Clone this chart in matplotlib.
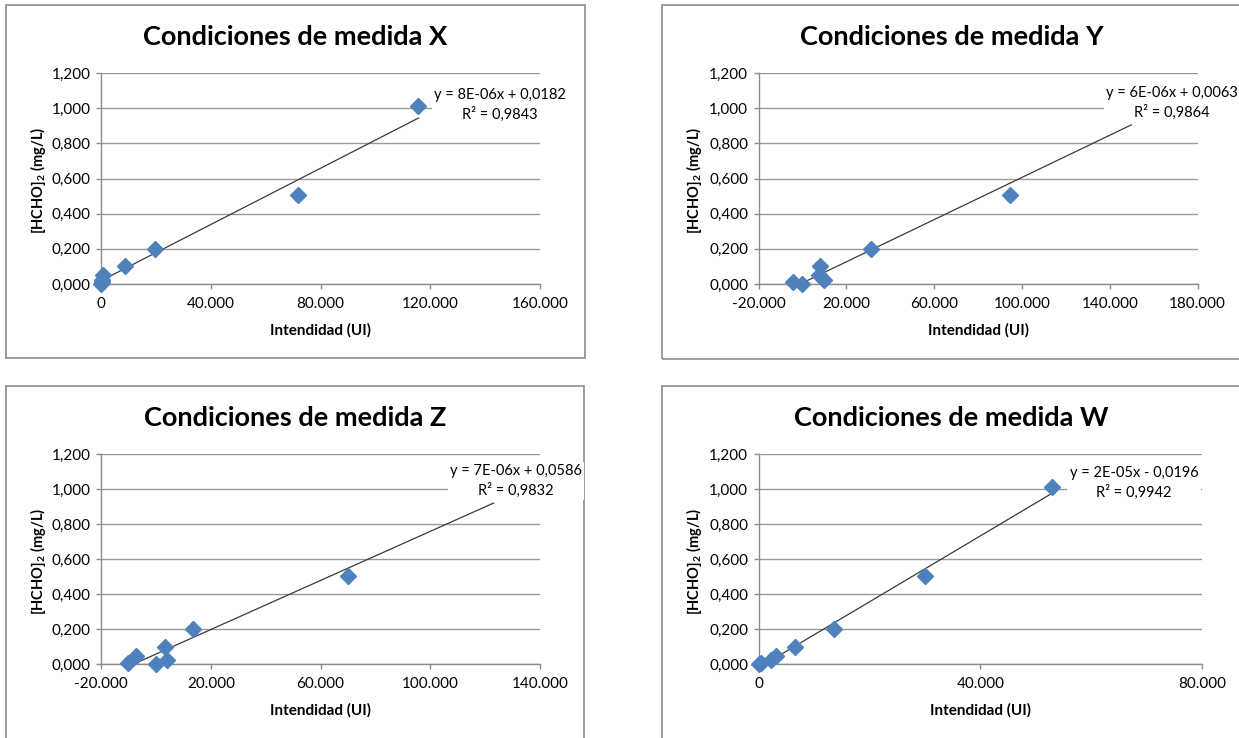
import numpy as np
import matplotlib
matplotlib.use('Agg')
import matplotlib.pyplot as plt
from matplotlib.patches import Rectangle
from matplotlib.ticker import FuncFormatter, FixedLocator

plt.rcParams['font.family'] = ['Lato', 'DejaVu Sans']
plt.rcParams['mathtext.fontset'] = 'custom'
plt.rcParams['mathtext.rm'] = 'Lato'
plt.rcParams['mathtext.bf'] = 'Lato:bold'

# intensidad medida (UI) y concentración de [HCHO]2 (mg/L) para cada condición
int_X = [0, 200, 500, 800, 8900, 19700, 71900, 115700]
conc_X = [0, 0.01, 0.025, 0.05, 0.1, 0.2, 0.505, 1.01]

int_Y = [-4300, -100, 7600, 7900, 9600, 31400, 94600, 149800]
conc_Y = [0.01, 0, 0.05, 0.1, 0.025, 0.2, 0.505, 1.01]

int_Z = [-10400, -7300, 0, 3200, 4100, 13600, 69900, 123000]
conc_Z = [0.01, 0.05, 0, 0.1, 0.025, 0.2, 0.505, 1.01]

int_W = [0, 500, 2300, 3200, 6600, 13600, 30100, 53000]
conc_W = [0, 0.01, 0.025, 0.05, 0.1, 0.2, 0.505, 1.01]

# línea de tendencia: pendiente, ordenada y R2
pendientes = [8.0e-6, 6.0e-6, 7.0e-6, 1.88e-5]
ordenadas = [0.0182, 0.0063, 0.0586, -0.0196]
r2 = [0.9843, 0.9864, 0.9832, 0.9942]

nombres = ['X', 'Y', 'Z', 'W']
xticks_X = [0, 40000, 80000, 120000, 160000]
xticks_Y = [-20000, 20000, 60000, 100000, 140000, 180000]
xticks_Z = [-20000, 20000, 60000, 100000, 140000]
xticks_W = [0, 40000, 80000]
yticks = [0, 0.2, 0.4, 0.6, 0.8, 1.0, 1.2]

W_PX, H_PX = 1239, 738
fig = plt.figure(figsize=(W_PX / 100, H_PX / 100), dpi=100)

def fx(px):
    return px / W_PX

def fy(py):
    return 1 - py / H_PX

def fmt_x(v, pos):
    if v == 0:
        return '0'
    return f'{v:,.0f}'.replace(',', '.')

def fmt_y(v, pos):
    return f'{v:.3f}'.replace('.', ',')

def ecuacion(m, b):
    signo = '+' if b >= 0 else '-'
    return f'y = {m:.0E}x {signo} ' + f'{abs(b):.4f}'.replace('.', ',')

gris = '#8c8c8c'
gris_rejilla = '#999999'
azul = '#4f81bd'

# (marco, área de gráfico, centro del título, centro de la ecuación)
paneles = [
    ((6, 5, 585, 358), (101, 73, 540, 284), (295, 37), (500, 105)),
    ((662, 5, 1241, 359), (758.6, 73, 1197.6, 284), (951.5, 37), (1172, 103)),
    ((6, 386, 584, 745), (101.2, 454, 540, 664.3), (295.5, 418), (516, 481)),
    ((662, 386, 1241, 745), (758.6, 454, 1202, 664.3), (951.5, 418), (1134, 483)),
]
datos = [(int_X, conc_X, xticks_X), (int_Y, conc_Y, xticks_Y),
         (int_Z, conc_Z, xticks_Z), (int_W, conc_W, xticks_W)]

for i, (marco, area, tit, eq) in enumerate(paneles):
    x, y, xt = datos[i]
    x = np.array(x)
    y = np.array(y)

    # marco del gráfico
    fig.patches.append(Rectangle((fx(marco[0]), fy(marco[3])),
                                 fx(marco[2] - marco[0]), (marco[3] - marco[1]) / H_PX,
                                 transform=fig.transFigure, fill=False,
                                 edgecolor=gris, linewidth=1.2))

    ax = fig.add_axes([fx(area[0]), fy(area[3]), fx(area[2] - area[0]),
                       (area[3] - area[1]) / H_PX])
    ax.set_xlim(xt[0], xt[-1])
    ax.set_ylim(0, 1.2)
    ax.xaxis.set_major_locator(FixedLocator(xt))
    ax.yaxis.set_major_locator(FixedLocator(yticks))
    ax.xaxis.set_major_formatter(FuncFormatter(fmt_x))
    ax.yaxis.set_major_formatter(FuncFormatter(fmt_y))
    ax.grid(axis='y', color=gris_rejilla, linewidth=1.0)
    ax.set_axisbelow(True)
    for s in ['top', 'right']:
        ax.spines[s].set_visible(False)
    for s in ['left', 'bottom']:
        ax.spines[s].set_color(gris)
        ax.spines[s].set_linewidth(1.0)
    ax.tick_params(axis='both', direction='out', length=3.5, width=1.0,
                   color=gris, labelsize=11, labelcolor='black')
    ax.tick_params(axis='y', pad=4)
    ax.tick_params(axis='x', pad=6)

    # recta de calibrado
    m, b = pendientes[i], ordenadas[i]
    xl = np.array([x.min(), x.max()])
    ax.plot(xl, m * xl + b, color='#3a3a3a', linewidth=0.9, zorder=3)
    ax.plot(x, y, linestyle='none', marker='D', markersize=8.5,
            color=azul, markeredgecolor=azul, zorder=4, clip_on=False)

    ax.set_xlabel('Intendidad (UI)', fontsize=11, fontweight='bold')
    ax.xaxis.set_label_coords(0.5, -46 / (area[3] - area[1]))
    ax.xaxis.label.set_va('center')
    ax.set_ylabel(r'[HCHO]$_\mathbf{2}$ (mg/L)', fontsize=10.5, fontweight='bold')
    ax.yaxis.set_label_coords(-(area[0] - (37.6 + marco[0] - 6)) / (area[2] - area[0]), 0.49)
    ax.yaxis.label.set_va('center')

    fig.text(fx(tit[0]), fy(tit[1]), f'Condiciones de medida {nombres[i]}',
             ha='center', va='center', fontsize=19.5, fontweight='bold')

    texto = ecuacion(m, b) + '\n' + f'R² = {r2[i]:.4f}'.replace('.', ',')
    fig.text(fx(eq[0]), fy(eq[1]), texto, ha='center', va='center',
             fontsize=10.5, linespacing=1.35, zorder=10,
             bbox=dict(boxstyle='square,pad=0.15', facecolor='white',
                       edgecolor='none'))

fig.savefig('out.png', dpi=100)
